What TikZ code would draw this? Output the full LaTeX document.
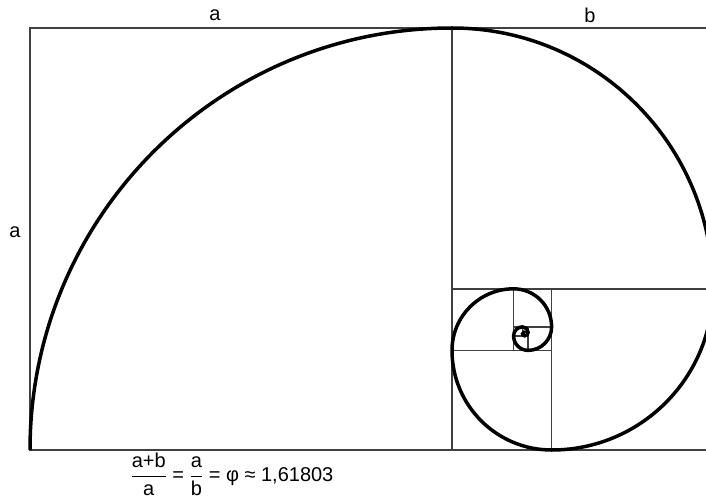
\documentclass[tikz,border=0pt]{standalone}
\usepackage{fontspec}
\setmainfont{Liberation Sans}
\tikzset{
  frame/.style={draw=black!75, line width=1.4pt},
  spiral/.style={draw=black, line width=3.5pt},
  side/.style={font=\fontsize{20}{24}\selectfont, inner sep=0pt}
}
\begin{document}
\begin{tikzpicture}[x=1pt,y=1pt]
\useasboundingbox (-30,-48) rectangle (676,450);
% golden rectangle and its squares
\draw[frame] (0,0) rectangle (682.8,422);
\draw[frame] (422,0) -- (422,422);
\draw[frame] (422,161.2) -- (682.8,161.2);
\draw[frame] (521.6,0) -- (521.6,161.2);
\draw[frame] (422,99.6) -- (521.6,99.6);
\draw[frame] (483.6,99.6) -- (483.6,161.2);
\draw[frame] (483.6,123.2) -- (521.6,123.2);
\draw[frame] (498.1,99.6) -- (498.1,123.2);
\draw[frame] (483.6,114.1) -- (498.1,114.1);
\draw[frame] (492.6,114.1) -- (492.6,123.2);
\draw[frame] (492.6,117.7) -- (498.1,117.7);
% the spiral, one quarter arc per square
\draw[spiral] (0,0) \foreach \i in {0,...,13} {
  arc[start angle=180-90*\i, delta angle=-90, radius=422/1.618034^\i]};
% labels
\node[side] (topa) at (185,435) {a};
\node[side] (topb) at (560,435) {b};
\node[side] (lefta) at (-15,218) {a};
\node[side] (ratio) at (202,-24)
  {$\displaystyle\frac{\mbox{a+b}}{\mbox{a}}\mbox{ = }\frac{\mbox{a}}{\mbox{b}}$ = φ ≈ 1,61803};
\end{tikzpicture}
\end{document}
